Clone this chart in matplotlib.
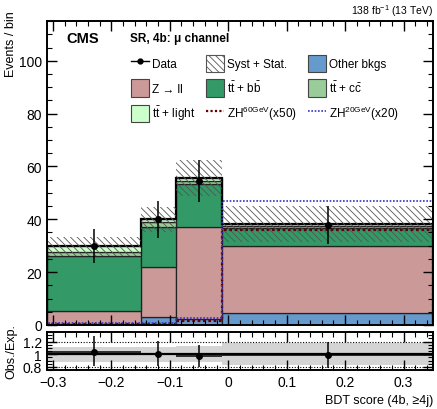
import numpy as np
import matplotlib.pyplot as plt
from matplotlib.patches import Patch
from matplotlib.lines import Line2D
from matplotlib.ticker import MultipleLocator

plt.rcParams['font.family'] = ['Liberation Sans', 'DejaVu Sans']
plt.rcParams['mathtext.fontset'] = 'custom'
plt.rcParams['mathtext.rm'] = 'Liberation Sans'
plt.rcParams['mathtext.it'] = 'Liberation Sans:italic'
plt.rcParams['mathtext.bf'] = 'Liberation Sans:bold'
plt.rcParams['hatch.linewidth'] = 0.6

# BDT score bins
edges = [-0.31, -0.15, -0.09, -0.01, 0.35]

# stacked backgrounds (events per bin)
other_bkgs = [0.3, 3.1, 2.2, 4.4]
z_ll = [5.1, 18.9, 34.8, 25.6]
tt_bb = [20.6, 15.0, 16.5, 6.7]
tt_cc = [1.5, 2.0, 1.0, 0.7]
tt_light = [2.2, 1.0, 1.0, 0.8]
bkg_unc = [3.6, 4.7, 6.8, 6.7]

# signals (scaled)
zh60_x50 = [0.3, 0.4, 1.6, 36.0]
zh20_x20 = [0.6, 0.6, 2.6, 47.0]

# data
data = [30.0, 40.0, 54.5, 38.0]
data_err = [6.5, 7.0, 8.0, 7.2]

# ratio panel
ratio = [1.04, 1.005, 0.965, 0.99]
ratio_lo = [0.81, 0.81, 0.80, 0.78]
ratio_hi = [1.28, 1.21, 1.14, 1.20]

edges = np.array(edges)
widths = np.diff(edges)
centers = edges[:-1] + widths / 2

fig = plt.figure(figsize=(4.37, 4.10), dpi=100)
ax = fig.add_axes([0.1075, 0.205, 0.883, 0.741])
rax = fig.add_axes([0.1075, 0.095, 0.883, 0.0927])

lab_zll = 'Z \u2192 ll'
lab_bb = r't$\bar{\rm t}$ + b$\bar{\rm b}$'
lab_cc = r't$\bar{\rm t}$ + c$\bar{\rm c}$'
lab_light = r't$\bar{\rm t}$ + light'
procs = [
    (other_bkgs, '#6699cc', 'Other bkgs'),
    (z_ll, '#cc9999', lab_zll),
    (tt_bb, '#339966', lab_bb),
    (tt_cc, '#99cc99', lab_cc),
    (tt_light, '#ccffcc', lab_light),
]
bottom = np.zeros(4)
handles = {}
for vals, col, lab in procs:
    ax.bar(edges[:-1], vals, width=widths, bottom=bottom, align='edge',
           color=col, edgecolor='#222222', linewidth=0.9)
    bottom += np.array(vals)
    handles[lab] = Patch(facecolor=col, edgecolor='#444444', linewidth=0.8)
total = bottom.copy()

ax.stairs(total, edges, color='black', linewidth=1.6)
unc = np.array(bkg_unc)
ax.bar(edges[:-1], 2 * unc, width=widths, bottom=total - unc, align='edge',
       fill=False, hatch='\\\\\\\\\\', edgecolor='#555555', linewidth=0)

ax.stairs(zh60_x50, edges, color='#660000', linestyle=(0, (1.2, 1.2)), linewidth=1.6)
ax.stairs(zh20_x20, edges, color='#3333cc', linestyle=(0, (1, 1)), linewidth=1.2)

ax.errorbar(centers, data, yerr=data_err, fmt='o', color='black',
            markersize=4, elinewidth=1.1, capsize=0)

ax.set_xlim(edges[0], edges[-1])
ax.set_ylim(0, 115)
ax.set_xticklabels([])
ax.set_ylabel('Events / bin', loc='top', fontsize=9)
ax.yaxis.set_major_locator(MultipleLocator(20))
ax.yaxis.set_minor_locator(MultipleLocator(5))

for a in (ax, rax):
    a.xaxis.set_major_locator(MultipleLocator(0.1))
    a.xaxis.set_minor_locator(MultipleLocator(0.02))
    a.tick_params(which='both', direction='in', top=True, right=True, labelsize=10)
    a.tick_params(which='major', length=7, width=1)
    a.tick_params(which='minor', length=3.5, width=0.8)
    for s in a.spines.values():
        s.set_linewidth(1.4)

ax.text(0.05, 0.968, 'CMS', transform=ax.transAxes, fontsize=10.5,
        fontweight='bold', va='top')
ax.text(0.215, 0.963, 'SR, 4b: μ channel', transform=ax.transAxes,
        fontsize=8.5, fontweight='bold', va='top')
ax.text(1.0, 1.01, r'138 fb$^{-1}$ (13 TeV)', transform=ax.transAxes,
        fontsize=7.5, ha='right', va='bottom')

h_data = Line2D([], [], color='black', marker='o', markersize=3.5, linewidth=1)
h_unc = Patch(facecolor='white', edgecolor='#555555', hatch='\\\\\\\\\\', linewidth=0.8)
h_zh60 = Line2D([], [], color='#660000', linestyle=(0, (1, 1)), linewidth=1.6)
h_zh20 = Line2D([], [], color='#3333cc', linestyle=(0, (1, 1)), linewidth=1.2)
lab_zh60 = r'ZH$^{60\mathrm{GeV}}$(x50)'
lab_zh20 = r'ZH$^{20\mathrm{GeV}}$(x20)'
labs = ['Data', lab_zll, lab_light,
        'Syst + Stat.', lab_bb, lab_zh60,
        'Other bkgs', lab_cc, lab_zh20]
hs = [h_data, handles[lab_zll], handles[lab_light],
      h_unc, handles[lab_bb], h_zh60,
      handles['Other bkgs'], handles[lab_cc], h_zh20]
ax.legend(hs, labs, ncol=3, loc='upper left', bbox_to_anchor=(0.19, 0.925),
          frameon=False, fontsize=8.5, handlelength=1.5, handleheight=1.9,
          handletextpad=0.3, columnspacing=0.9, labelspacing=0.62)

# ratio panel
r = np.array(ratio)
rel = unc / total
rax.bar(edges[:-1], 2 * rel, width=widths, bottom=1 - rel, align='edge',
        color='#d4d4d4', linewidth=0)
rax.axhline(1, color='black', linewidth=1.6)
rax.axhline(1.2, color='black', linewidth=0.8, linestyle=(0, (1, 1.5)))
rax.axhline(0.8, color='black', linewidth=0.8, linestyle=(0, (1, 1.5)))
rax.errorbar(centers, r, xerr=widths / 2,
             yerr=[r - np.array(ratio_lo), np.array(ratio_hi) - r],
             fmt='o', color='black', markersize=4, elinewidth=1.1, capsize=0)
rax.set_xlim(edges[0], edges[-1])
rax.set_ylim(0.75, 1.35)
rax.set_yticks([0.8, 1.0, 1.2])
rax.set_yticklabels(['0.8', '1', '1.2'])
rax.yaxis.set_minor_locator(MultipleLocator(0.05))
rax.set_xticks([-0.3, -0.2, -0.1, 0, 0.1, 0.2, 0.3])
rax.set_xticklabels(['\u22120.3', '\u22120.2', '\u22120.1', '0', '0.1', '0.2', '0.3'])
rax.set_ylabel('Obs./Exp.', fontsize=9)
rax.set_xlabel('BDT score (4b, \u22654j)', loc='right', fontsize=9)
rax.yaxis.set_label_coords(-0.078, 0.5)
ax.yaxis.set_label_coords(-0.078, 1.035)

fig.savefig('out.png', dpi=100)
